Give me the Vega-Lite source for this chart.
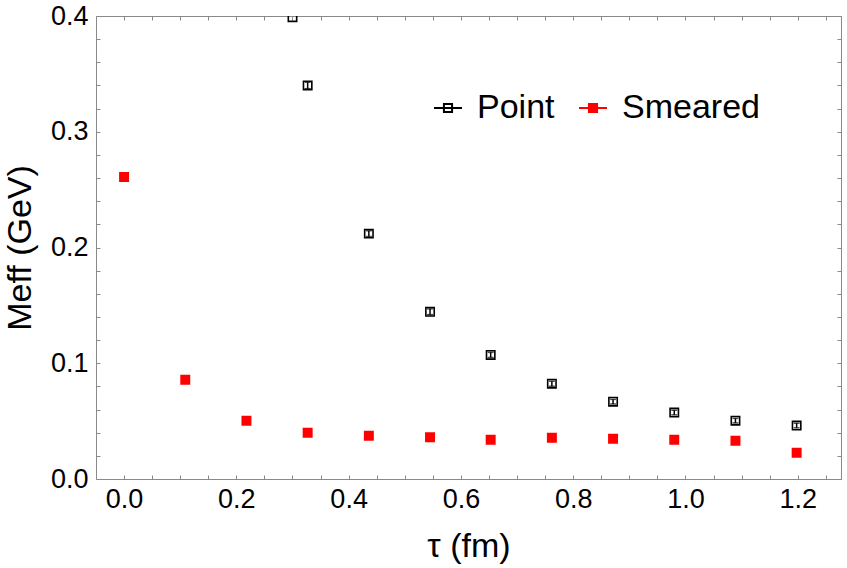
{
  "$schema": "https://vega.github.io/schema/vega-lite/v6.json",
  "width": 745,
  "height": 463,
  "autosize": {"type": "none"},
  "padding": {"left": 96, "top": 16, "right": 6, "bottom": 89},
  "background": "white",
  "config": {
    "view": {"stroke": "#8a8a8a"},
    "font": "Liberation Sans",
    "axis": {
      "grid": false,
      "domainColor": "#8a8a8a",
      "tickColor": "#8a8a8a",
      "labelColor": "black",
      "titleColor": "black",
      "labelFont": "Liberation Sans",
      "titleFont": "Liberation Sans",
      "titleFontWeight": "normal",
      "labelOverlap": false,
      "labelFlush": false
    }
  },
  "data": {
    "values": [
      {"series": "Point", "tau": 0.300, "m": 0.399, "err": 0.0},
      {"series": "Point", "tau": 0.327, "m": 0.340, "err": 0.0028},
      {"series": "Point", "tau": 0.436, "m": 0.212, "err": 0.0025},
      {"series": "Point", "tau": 0.545, "m": 0.1445, "err": 0.0025},
      {"series": "Point", "tau": 0.653, "m": 0.1072, "err": 0.0022},
      {"series": "Point", "tau": 0.762, "m": 0.0823, "err": 0.0022},
      {"series": "Point", "tau": 0.871, "m": 0.0668, "err": 0.002},
      {"series": "Point", "tau": 0.980, "m": 0.0574, "err": 0.002},
      {"series": "Point", "tau": 1.089, "m": 0.0504, "err": 0.002},
      {"series": "Point", "tau": 1.198, "m": 0.0462, "err": 0.002},
      {"series": "Smeared", "tau": 0.0, "m": 0.261, "err": 0.0},
      {"series": "Smeared", "tau": 0.109, "m": 0.0858, "err": 0.0},
      {"series": "Smeared", "tau": 0.218, "m": 0.0504, "err": 0.0},
      {"series": "Smeared", "tau": 0.327, "m": 0.040, "err": 0.0},
      {"series": "Smeared", "tau": 0.436, "m": 0.0374, "err": 0.0},
      {"series": "Smeared", "tau": 0.545, "m": 0.036, "err": 0.0},
      {"series": "Smeared", "tau": 0.653, "m": 0.034, "err": 0.0},
      {"series": "Smeared", "tau": 0.762, "m": 0.0357, "err": 0.0},
      {"series": "Smeared", "tau": 0.871, "m": 0.0348, "err": 0.0},
      {"series": "Smeared", "tau": 0.980, "m": 0.034, "err": 0.0},
      {"series": "Smeared", "tau": 1.089, "m": 0.033, "err": 0.0},
      {"series": "Smeared", "tau": 1.198, "m": 0.0227, "err": 0.0}
    ]
  },
  "layer": [
    {
      "transform": [{"filter": "datum.series === 'Point' && datum.err > 0"}],
      "mark": {"type": "errorbar", "ticks": {"size": 6, "color": "black", "strokeWidth": 1.5}, "color": "black", "thickness": 1.5},
      "encoding": {
        "x": {
          "field": "tau", "type": "quantitative",
          "scale": {"domain": [-0.05, 1.277], "nice": false, "zero": false},
          "axis": {
            "orient": "top", "labels": false, "title": null,
            "values": [0, 0.05, 0.1, 0.15, 0.2, 0.25, 0.3, 0.35, 0.4, 0.45, 0.5, 0.55, 0.6, 0.65, 0.7, 0.75, 0.8, 0.85, 0.9, 0.95, 1.0, 1.05, 1.1, 1.15, 1.2, 1.25],
            "tickSize": -4
          }
        },
        "y": {
          "field": "m", "type": "quantitative",
          "scale": {"domain": [0, 0.4], "nice": false},
          "axis": {
            "orient": "right", "labels": false, "title": null,
            "values": [0, 0.02, 0.04, 0.06, 0.08, 0.1, 0.12, 0.14, 0.16, 0.18, 0.2, 0.22, 0.24, 0.26, 0.28, 0.3, 0.32, 0.34, 0.36, 0.38, 0.4],
            "tickSize": -4
          }
        },
        "yError": {"field": "err"}
      }
    },
    {
      "mark": {"type": "square", "filled": true, "strokeWidth": 1.6, "opacity": 1, "clip": true},
      "encoding": {
        "x": {
          "field": "tau", "type": "quantitative",
          "scale": {"domain": [-0.05, 1.277], "nice": false, "zero": false},
          "axis": {
            "orient": "bottom",
            "title": "τ (fm)",
            "titleFontSize": 34,
            "titlePadding": 17,
            "labelFontSize": 27,
            "labelPadding": 11,
            "values": [0, 0.05, 0.1, 0.15, 0.2, 0.25, 0.3, 0.35, 0.4, 0.45, 0.5, 0.55, 0.6, 0.65, 0.7, 0.75, 0.8, 0.85, 0.9, 0.95, 1.0, 1.05, 1.1, 1.15, 1.2, 1.25],
            "labelExpr": "abs(datum.value*5 - round(datum.value*5)) < 0.001 ? format(datum.value, '.1f') : ''",
            "tickSize": -4
          }
        },
        "y": {
          "field": "m", "type": "quantitative",
          "scale": {"domain": [0, 0.4], "nice": false},
          "axis": {
            "orient": "left",
            "title": "Meff (GeV)",
            "titleFontSize": 34,
            "titlePadding": 13,
            "labelFontSize": 27,
            "labelPadding": 12,
            "values": [0, 0.02, 0.04, 0.06, 0.08, 0.1, 0.12, 0.14, 0.16, 0.18, 0.2, 0.22, 0.24, 0.26, 0.28, 0.3, 0.32, 0.34, 0.36, 0.38, 0.4],
            "labelExpr": "abs(datum.value*10 - round(datum.value*10)) < 0.001 ? format(datum.value, '.1f') : ''",
            "tickSize": -4
          }
        },
        "size": {"value": 70},
        "fill": {
          "field": "series", "type": "nominal",
          "scale": {"domain": ["Point", "Smeared"], "range": ["transparent", "red"]},
          "legend": {
            "orient": "none", "legendX": 335, "legendY": 75, "direction": "horizontal", "title": null,
            "symbolType": "M-1,0H1M-0.29,-0.29H0.29V0.29H-0.29Z",
            "symbolSize": 784, "symbolStrokeWidth": 2,
            "labelFontSize": 34, "labelFont": "Liberation Sans", "labelColor": "black",
            "labelOffset": 12, "columnPadding": 20, "labelLimit": 300
          }
        },
        "stroke": {
          "field": "series", "type": "nominal",
          "scale": {"domain": ["Point", "Smeared"], "range": ["black", "red"]},
          "legend": {
            "orient": "none", "legendX": 335, "legendY": 75, "direction": "horizontal", "title": null,
            "symbolType": "M-1,0H1M-0.29,-0.29H0.29V0.29H-0.29Z",
            "symbolSize": 784, "symbolStrokeWidth": 2,
            "labelFontSize": 34, "labelFont": "Liberation Sans", "labelColor": "black",
            "labelOffset": 12, "columnPadding": 20, "labelLimit": 300
          }
        }
      }
    }
  ]
}
